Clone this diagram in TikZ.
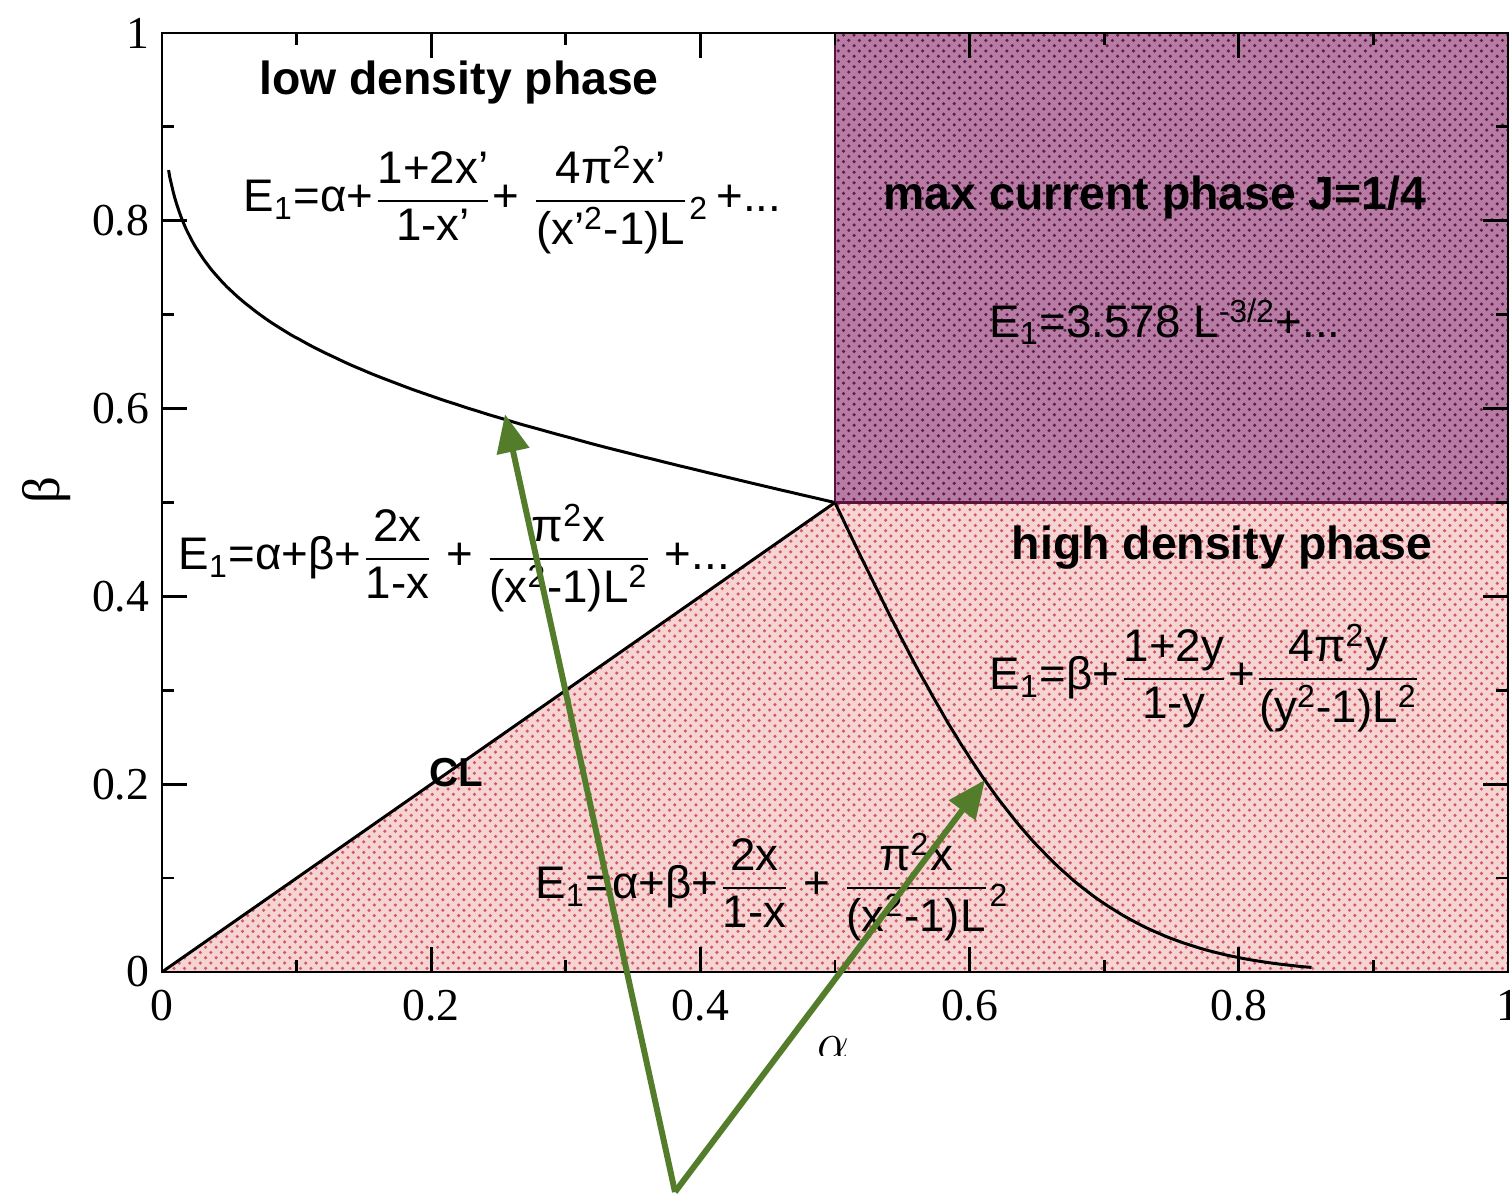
\documentclass[tikz,border=0pt]{standalone}
\usepackage{amsmath}
\usepackage{fontspec}
\setmainfont{Liberation Sans}
\newfontfamily\tickfont{Liberation Serif}
\usepackage{tikz}
\usetikzlibrary{positioning, patterns, arrows.meta}
\definecolor{mcfill}{RGB}{182,124,164}
\definecolor{mcdot}{RGB}{100,25,75}
\definecolor{mcedge}{RGB}{90,20,60}
\definecolor{hdfill}{RGB}{247,212,212}
\definecolor{hddot}{RGB}{210,90,95}
\definecolor{arrowgreen}{RGB}{84,125,43}
\newcommand{\phfrac}[2]{\ensuremath{\dfrac{\mbox{#1}}{\mbox{#2}}}}
\tikzstyle{phase} = [font=\fontsize{13.2}{15}\selectfont\bfseries, inner sep=0pt]
\tikzstyle{eq} = [font=\fontsize{13}{15}\selectfont, inner sep=0pt]
\tikzstyle{ticklab} = [font=\fontsize{13}{15}\selectfont\tickfont, inner sep=0pt]
\tikzstyle{frame} = [line width=0.8pt]
\tikzstyle{curve} = [line width=0.85pt]
\tikzstyle{arrow} = [-{Triangle[length=3.8mm,width=3.2mm]}, line width=1.7pt, draw=arrowgreen]

\begin{document}
\begin{tikzpicture}
    \useasboundingbox (0,0) rectangle (15.1,11.95);

    \begin{scope}[shift={(1.62,2.23)}, x=13.46cm, y=9.39cm]
        % phase regions
        \fill[hdfill] (0,0) -- (0.5,0.5) -- (1,0.5) -- (1,0) -- cycle;
        \fill[pattern=crosshatch dots, pattern color=hddot] (0,0) -- (0.5,0.5) -- (1,0.5) -- (1,0) -- cycle;
        \fill[mcfill] (0.5,0.5) rectangle (1,1);
        \fill[pattern=crosshatch dots, pattern color=mcdot] (0.5,0.5) rectangle (1,1);
        \draw[mcedge, line width=0.7pt] (0.5,0.5) rectangle (1,1);

        \coordinate (O) at (0,0);
        \coordinate (C) at (0.5,0.5);
        \draw[curve] (O) -- (C);
        % finite size boundaries, t = cube root of alpha/(1-alpha)
        \draw[curve] plot[domain=0.171:1, samples=80, smooth] ({\x*\x*\x/(1+\x*\x*\x)}, {1/(1+\x)});
        \draw[curve] plot[domain=0.171:1, samples=80, smooth] ({1/(1+\x)}, {\x*\x*\x/(1+\x*\x*\x)});

        % frame and ticks
        \draw[frame] (0,0) rectangle (1,1);
        \foreach \t in {0,0.2,0.4,0.6,0.8,1} {
            \draw[frame] (\t,0) -- ++(0,0.25cm);
            \draw[frame] (\t,1) -- ++(0,-0.25cm);
            \draw[frame] (0,\t) -- ++(0.25cm,0);
            \draw[frame] (1,\t) -- ++(-0.25cm,0);
        }
        \foreach \t in {0.1,0.3,0.5,0.7,0.9} {
            \draw[frame] (\t,0) -- ++(0,0.12cm);
            \draw[frame] (\t,1) -- ++(0,-0.12cm);
            \draw[frame] (0,\t) -- ++(0.12cm,0);
            \draw[frame] (1,\t) -- ++(-0.12cm,0);
        }
        \foreach \t [count=\i] in {0,0.2,0.4,0.6,0.8,1} {
            \node[ticklab] (xt\i) at (\t,-0.036) {\t};
            \node[ticklab, anchor=east] (yt\i) at (-0.009,\t) {\t};
        }

        \coordinate (tipld) at (0.2548,0.594);
        \coordinate (tiphd) at (0.6114,0.2045);
    \end{scope}

    % axis labels
    \node[font=\fontsize{15}{17}\selectfont\tickfont, rotate=90] (blab) at (0.47,7.05) {β};
    \begin{scope}
        \clip (7.8,1.40) rectangle (8.9,2.0);
        \node[font=\fontsize{14}{16}\selectfont\tickfont] (alab) at (8.33,1.47) {$\alpha$};
    \end{scope}

    % phase names
    \node[phase] (ldname) at (4.59,11.12) {low density phase};
    \node[phase] (mcname) at (11.55,9.97) {max current phase J=1/4};
    \node[phase] (hdname) at (12.22,6.47) {high density phase};
    \node[phase, font=\fontsize{11.5}{13}\selectfont\bfseries] (clname) at (4.56,4.22) {CL};

    % gaps
    \node[eq, anchor=west] (ldeq) at (2.43,9.95) {E\textsubscript{1}=α+\phfrac{1+2x’}{1-x’}+ \phfrac{4π\textsuperscript{2}x’}{(x’\textsuperscript{2}-1)L}\textsubscript{2}\,+...};
    \node[eq] (mceq) at (11.65,8.73) {E\textsubscript{1}=3.578 L\textsuperscript{-3/2}+...};
    \node[eq, anchor=west] (lmeq) at (1.78,6.37) {E\textsubscript{1}=α+β+\phfrac{2x}{1-x} + \phfrac{π\textsuperscript{2}x}{(x\textsuperscript{2}-1)L\textsuperscript{2}} +...};
    \node[eq, anchor=west] (hdeq) at (9.89,5.17) {E\textsubscript{1}=β+\phfrac{1+2y}{1-y}+\phfrac{4π\textsuperscript{2}y}{(y\textsuperscript{2}-1)L\textsuperscript{2}}};
    \node[eq, anchor=west] (cleq) at (5.35,3.08) {E\textsubscript{1}=α+β+\phfrac{2x}{1-x} + \phfrac{π\textsuperscript{2}x}{(x\textsuperscript{2}-1)L}\textsubscript{2}};

    % pointers to the finite size boundaries
    \coordinate (base) at (6.75,0.03);
    \draw[arrow] (base) -- (tipld);
    \draw[arrow] (base) -- (tiphd);
\end{tikzpicture}
\end{document}
